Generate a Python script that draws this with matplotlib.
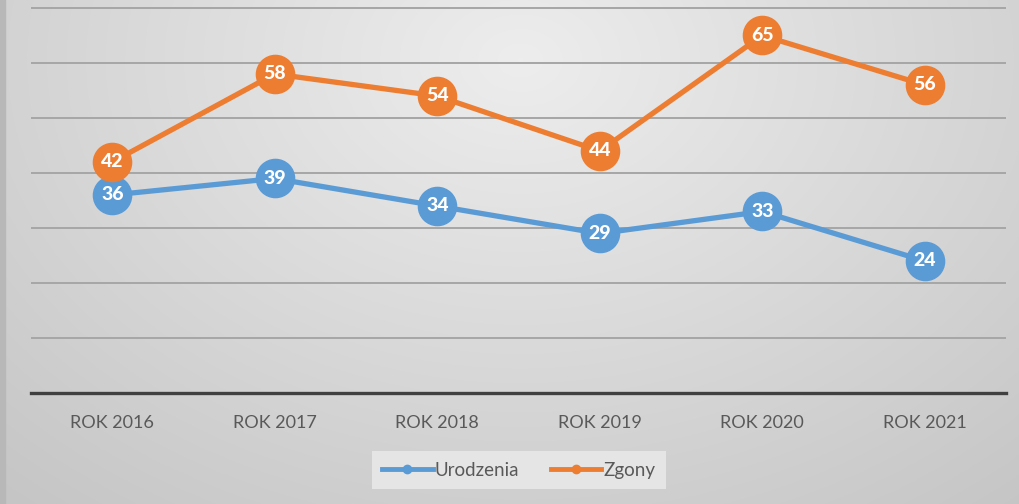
import matplotlib
matplotlib.use("Agg")
import matplotlib.pyplot as plt
from matplotlib.lines import Line2D
import numpy as np

# dane
lata = ["ROK 2016", "ROK 2017", "ROK 2018", "ROK 2019", "ROK 2020", "ROK 2021"]
urodzenia = [36, 39, 34, 29, 33, 24]
zgony = [42, 58, 54, 44, 65, 56]

NIEBIESKI = "#5b9bd5"
POMARANCZ = "#ed7d31"

plt.rcParams["font.family"] = ["Lato", "DejaVu Sans"]

fig = plt.figure(figsize=(10.19, 5.04), dpi=100)

# tlo - gradient radialny
bg = fig.add_axes([0, 0, 1, 1], zorder=-10)
h, w = 504, 1019
yy, xx = np.mgrid[0:h, 0:w]
r = np.sqrt(((xx - 520) / 700.0) ** 2 + ((yy - 60) / 520.0) ** 2)
val = np.clip(0.93 - 0.14 * r, 0, 1)
bg.imshow(np.dstack([val, val, val]), aspect="auto", extent=[0, 1, 0, 1])
bg.axis("off")
bg.add_patch(plt.Rectangle((0, 0), 5 / 1019, 1, color="#b8b8b8", transform=bg.transAxes))

ax = fig.add_axes([31 / 1019, 1 - 393 / 504, 975 / 1019, 393 / 504])
ax.patch.set_alpha(0)
x = np.arange(len(lata))

ax.plot(x, urodzenia, color=NIEBIESKI, lw=3.8, marker="o", ms=27.5, zorder=3,
        solid_capstyle="round")
ax.plot(x, zgony, color=POMARANCZ, lw=3.8, marker="o", ms=27.5, zorder=3,
        solid_capstyle="round")

for xi, v in zip(x, urodzenia):
    ax.text(xi, v, str(v), ha="center", va="center", color="white",
            fontsize=14, fontweight="black", zorder=4)
for xi, v in zip(x, zgony):
    ax.text(xi, v, str(v), ha="center", va="center", color="white",
            fontsize=14, fontweight="black", zorder=4)

ax.set_xlim(-0.5, len(lata) - 0.5)
ax.set_ylim(0, 71.45)
ax.set_yticks(range(10, 80, 10))
ax.yaxis.grid(True, color="#a6a6a6", lw=1.4)
ax.set_axisbelow(True)
ax.tick_params(axis="y", left=False, labelleft=False)
ax.set_xticks(x)
ax.set_xticklabels(lata, fontsize=13, color="#595959")
ax.tick_params(axis="x", length=0, pad=16)
for s in ["left", "right", "top"]:
    ax.spines[s].set_visible(False)
ax.spines["bottom"].set_color("#404040")
ax.spines["bottom"].set_linewidth(2.4)
ax.spines["bottom"].set_zorder(2)

uchwyty = [
    Line2D([0], [0], color=NIEBIESKI, lw=3.5, marker="o", ms=6),
    Line2D([0], [0], color=POMARANCZ, lw=3.5, marker="o", ms=6),
]
leg = fig.legend(uchwyty, ["Urodzenia", "Zgony"], loc="center",
                 bbox_to_anchor=(0.509, 0.067), ncol=2, frameon=True,
                 fontsize=13.5, handlelength=2.7, handletextpad=0.1,
                 columnspacing=1.7, fancybox=False, borderpad=0.55)
leg.get_frame().set_facecolor("#e8e8e8")
leg.get_frame().set_edgecolor("none")
leg.get_frame().set_alpha(0.9)
for t in leg.get_texts():
    t.set_color("#595959")

fig.savefig("out.png", dpi=100)
